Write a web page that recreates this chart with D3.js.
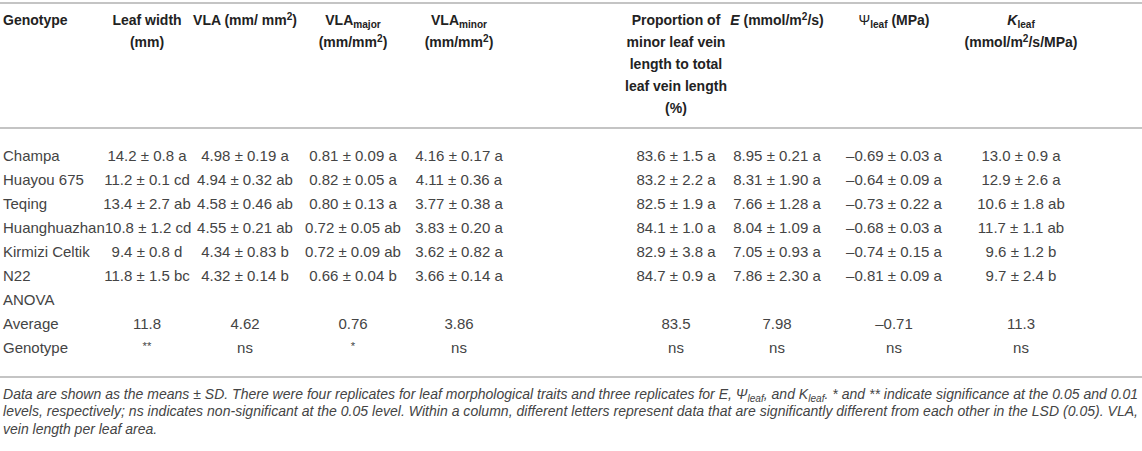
<!DOCTYPE html>
<meta charset="utf-8">
<head>
<script src="https://d3js.org/d3.v7.min.js"></script>
<style>
  body { margin: 0; background: #fff; }
  svg text { font-family: "Liberation Sans", Arial, Helvetica, sans-serif; }
</style>
</head>
<body>
<div id="table"></div>
<script>
const genotypes = ["Champa", "Huayou 675", "Teqing", "Huanghuazhan", "Kirmizi Celtik", "N22"];
const anovaLabels = ["ANOVA", "Average", "Genotype"];

const leafWidthMean  = [14.2, 11.2, 13.4, 10.8, 9.4, 11.8];
const leafWidthSD    = [0.8, 0.1, 2.7, 1.2, 0.8, 1.5];
const leafWidthGroup = ["a", "cd", "ab", "cd", "d", "bc"];

const vlaMean  = [4.98, 4.94, 4.58, 4.55, 4.34, 4.32];
const vlaSD    = [0.19, 0.32, 0.46, 0.21, 0.83, 0.14];
const vlaGroup = ["a", "ab", "ab", "ab", "b", "b"];

const vlaMajorMean  = [0.81, 0.82, 0.80, 0.72, 0.72, 0.66];
const vlaMajorSD    = [0.09, 0.05, 0.13, 0.05, 0.09, 0.04];
const vlaMajorGroup = ["a", "a", "a", "ab", "ab", "b"];

const vlaMinorMean  = [4.16, 4.11, 3.77, 3.83, 3.62, 3.66];
const vlaMinorSD    = [0.17, 0.36, 0.38, 0.20, 0.82, 0.14];
const vlaMinorGroup = ["a", "a", "a", "a", "a", "a"];

const proportionMean  = [83.6, 83.2, 82.5, 84.1, 82.9, 84.7];
const proportionSD    = [1.5, 2.2, 1.9, 1.0, 3.8, 0.9];
const proportionGroup = ["a", "a", "a", "a", "a", "a"];

const eMean  = [8.95, 8.31, 7.66, 8.04, 7.05, 7.86];
const eSD    = [0.21, 1.90, 1.28, 1.09, 0.93, 2.30];
const eGroup = ["a", "a", "a", "a", "a", "a"];

const psiMean  = [-0.69, -0.64, -0.73, -0.68, -0.74, -0.81];
const psiSD    = [0.03, 0.09, 0.22, 0.03, 0.15, 0.09];
const psiGroup = ["a", "a", "a", "a", "a", "a"];

const kMean  = [13.0, 12.9, 10.6, 11.7, 9.6, 9.7];
const kSD    = [0.9, 2.6, 1.8, 1.1, 1.2, 2.4];
const kGroup = ["a", "a", "ab", "ab", "b", "b"];

const averages     = [11.8, 4.62, 0.76, 3.86, 83.5, 7.98, -0.71, 11.3];
const significance = ["**", "ns", "*", "ns", "ns", "ns", "ns", "ns"];
const decimals     = [1, 2, 2, 2, 1, 2, 2, 1];

// header markup: ~italic~  #normal weight#  ^sup  _sub
const headerLines = [
  ["Genotype"],
  ["Leaf width", "(mm)"],
  ["VLA (mm/ mm^2)"],
  ["VLA_major", "(mm/mm^2)"],
  ["VLA_minor", "(mm/mm^2)"],
  ["Proportion of", "minor leaf vein", "length to total", "leaf vein length", "(%)"],
  ["~E~ (mmol/m^2/s)"],
  ["#Ψ#_leaf (MPa)"],
  ["~K~_leaf", "(mmol/m^2/s/MPa)"]
];

const footnoteLines = [
  "Data are shown as the means ± SD. There were four replicates for leaf morphological traits and three replicates for E, Ψ_leaf, and K_leaf. * and ** indicate significance at the 0.05 and 0.01",
  "levels, respectively; ns indicates non-significant at the 0.05 level. Within a column, different letters represent data that are significantly different from each other in the LSD (0.05). VLA,",
  "vein length per leaf area."
];

// ---- layout ----
const width = 1142, height = 451;
const headSize = 14, fontSize = 15, footSize = 14;
const textColor = "#444", headColor = "#222", ruleColor = "#c4c4c4";

const columns = [
  {mean: leafWidthMean,  sd: leafWidthSD,  group: leafWidthGroup},
  {mean: vlaMean,        sd: vlaSD,        group: vlaGroup},
  {mean: vlaMajorMean,   sd: vlaMajorSD,   group: vlaMajorGroup},
  {mean: vlaMinorMean,   sd: vlaMinorSD,   group: vlaMinorGroup},
  {mean: proportionMean, sd: proportionSD, group: proportionGroup},
  {mean: eMean,          sd: eSD,          group: eGroup},
  {mean: psiMean,        sd: psiSD,        group: psiGroup},
  {mean: kMean,          sd: kSD,          group: kGroup}
];
const colIndex = d3.range(columns.length);

const x = d3.scaleOrdinal()
  .domain(colIndex)
  .range([147, 245, 353, 459, 676, 777, 894, 1021]);

const rowLabels = genotypes.concat(anovaLabels);
const y = d3.scalePoint()
  .domain(rowLabels)
  .range([156, 348]);

const headerY = d3.scaleLinear().domain([0, 1]).range([20, 42]);
const footY = d3.scaleLinear().domain([0, 1]).range([394, 411.3]);

const fmtNum = (v, dp) => (v < 0 ? "–" : "") + Math.abs(v).toFixed(dp);

const svg = d3.select("#table").append("svg")
  .attr("width", width)
  .attr("height", height);

// rich text writer
function writeRich(textSel, str, size) {
  const parts = str.match(/(~[^~]+~|#[^#]+#|\^\w+|_\w+|[^~#^_]+)/g);
  let offset = 0;
  parts.forEach(p => {
    let t = p, target = 0, fs = size, style = null, weight = null;
    if (p[0] === "~") { t = p.slice(1, -1); style = "italic"; }
    else if (p[0] === "#") { t = p.slice(1, -1); weight = "normal"; }
    else if (p[0] === "^") { t = p.slice(1); target = -size * 0.38; fs = size * 0.72; }
    else if (p[0] === "_") { t = p.slice(1); target = size * 0.2; fs = size * 0.72; }
    const ts = textSel.append("tspan")
      .attr("dy", target - offset)
      .attr("font-size", fs)
      .text(t);
    if (style) ts.attr("font-style", style);
    if (weight) ts.attr("font-weight", weight);
    offset = target;
  });
}

// rules
[3, 128, 377].forEach(ry => {
  svg.append("line")
    .attr("x1", 0).attr("x2", width)
    .attr("y1", ry).attr("y2", ry)
    .attr("stroke", ruleColor)
    .attr("stroke-width", 2);
});

// header
headerLines.forEach((lines, c) => {
  lines.forEach((ln, i) => {
    const t = svg.append("text")
      .attr("x", c === 0 ? 3 : x(c - 1))
      .attr("y", headerY(i) + headSize * 0.36)
      .attr("text-anchor", c === 0 ? "start" : "middle")
      .attr("font-size", headSize)
      .attr("font-weight", "bold")
      .attr("fill", headColor);
    writeRich(t, ln, headSize);
  });
});

// row labels
const labelEnds = {};
svg.append("g").selectAll("text")
  .data(rowLabels)
  .join("text")
  .attr("x", 3)
  .attr("y", d => y(d) + fontSize * 0.36)
  .attr("font-size", fontSize)
  .attr("fill", textColor)
  .text(d => d)
  .each(function(d) { labelEnds[d] = 3 + this.getComputedTextLength(); });

// genotype cells
genotypes.forEach((g, r) => {
  colIndex.forEach(c => {
    const col = columns[c];
    const str = `${fmtNum(col.mean[r], decimals[c])} ± ${col.sd[r].toFixed(decimals[c])} ${col.group[r]}`;
    const t = svg.append("text")
      .attr("x", x(c))
      .attr("y", y(g) + fontSize * 0.36)
      .attr("text-anchor", "middle")
      .attr("font-size", fontSize)
      .attr("fill", textColor)
      .text(str);
    // long genotype names push the first cell to the right
    if (c === 0) {
      const w = t.node().getComputedTextLength();
      if (x(c) - w / 2 < labelEnds[g]) {
        t.attr("text-anchor", "start").attr("x", labelEnds[g]);
      }
    }
  });
});

// ANOVA rows
colIndex.forEach(c => {
  svg.append("text")
    .attr("x", x(c))
    .attr("y", y("Average") + fontSize * 0.36)
    .attr("text-anchor", "middle")
    .attr("font-size", fontSize)
    .attr("fill", textColor)
    .text(fmtNum(averages[c], decimals[c]));
  const ns = significance[c] === "ns";
  svg.append("text")
    .attr("x", x(c))
    .attr("y", y("Genotype") + fontSize * 0.36 + (ns ? 0 : -3))
    .attr("text-anchor", "middle")
    .attr("font-size", ns ? fontSize : fontSize * 0.75)
    .attr("fill", textColor)
    .text(significance[c]);
});

// footnote (first two lines are justified to the full width)
footnoteLines.forEach((ln, i) => {
  const t = svg.append("text")
    .attr("x", 3)
    .attr("y", footY(i) + footSize * 0.36)
    .attr("font-size", footSize)
    .attr("font-style", "italic")
    .attr("fill", textColor);
  writeRich(t, ln, footSize);
  if (i < footnoteLines.length - 1) {
    t.attr("textLength", 1135).attr("lengthAdjust", "spacing");
  }
});
</script>
</body>
